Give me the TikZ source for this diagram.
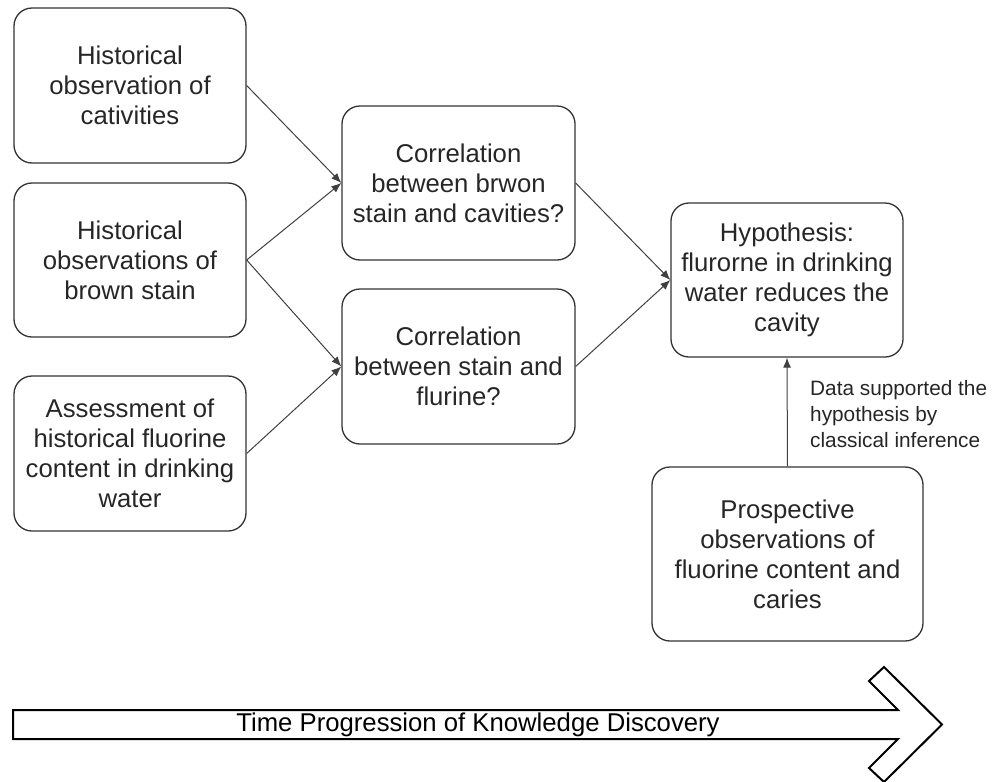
\documentclass[tikz,border=0pt]{standalone}
\usepackage{fontspec}
\setmainfont{Liberation Sans}
\usetikzlibrary{arrows.meta}

\begin{document}
\begin{tikzpicture}[x=1pt, y=-1pt,
    box/.style={draw=black!80, line width=1.3pt, rounded corners=18pt, align=center,
      font=\fontsize{25.7}{30}\selectfont, text=black!85, inner sep=0pt},
    link/.style={draw=black!75, line width=1pt, -{Latex[length=10pt,width=8pt]}}]
            \useasboundingbox (0,0) rectangle (994,782);
            \node[box, minimum width=232pt, minimum height=155pt] (obsCav) at (130, 85.5) {Historical\\observation of\\cativities};
            \node[box, minimum width=232pt, minimum height=154pt] (obsStain) at (130, 260) {Historical\\observations of\\brown stain};
            \node[box, minimum width=232pt, minimum height=155pt] (assFluor) at (130, 453.5) {Assessment of\\historical fluorine\\content in drinking\\water};
            \node[box, minimum width=233pt, minimum height=154pt] (corrCav) at (458.5, 183) {Correlation\\between brwon\\stain and cavities?};
            \node[box, minimum width=233pt, minimum height=155pt] (corrFluor) at (458.5, 366.5) {Correlation\\between stain and\\flurine?};
            \node[box, minimum width=232pt, minimum height=154pt] (hypo) at (787, 280) {Hypothesis:\\flurorne in drinking\\water reduces the\\cavity};
            \node[box, minimum width=271pt, minimum height=174pt] (prosp) at (787.5, 554) {Prospective\\observations of\\fluorine content and\\caries};
            \draw[link] (obsCav.east) -- (corrCav.west);
            \draw[link] (obsStain.east) -- (corrCav.west);
            \draw[link] (obsStain.east) -- (corrFluor.west);
            \draw[link] (assFluor.east) -- (corrFluor.west);
            \draw[link] (corrCav.east) -- (hypo.west);
            \draw[link] (corrFluor.east) -- (hypo.west);
            \draw[link] (prosp.north) -- (hypo.south);
            \node[anchor=west, align=left, inner sep=0pt, text=black!85,
              font=\fontsize{20.8}{26}\selectfont] (infer) at (810, 414) {Data supported the\\hypothesis by\\classical inference};
            % time arrow
            \draw[line width=2pt, line join=miter] (13,710) -- (898,710) -- (869,681) -- (884,667)
              -- (942,724.5) -- (884,782) -- (869,768) -- (898,739) -- (13,739) -- cycle;
            \node[font=\fontsize{25.7}{30}\selectfont, inner sep=0pt] (time) at (478, 724.5) {Time Progression of Knowledge Discovery};
        \end{tikzpicture}
\end{document}
